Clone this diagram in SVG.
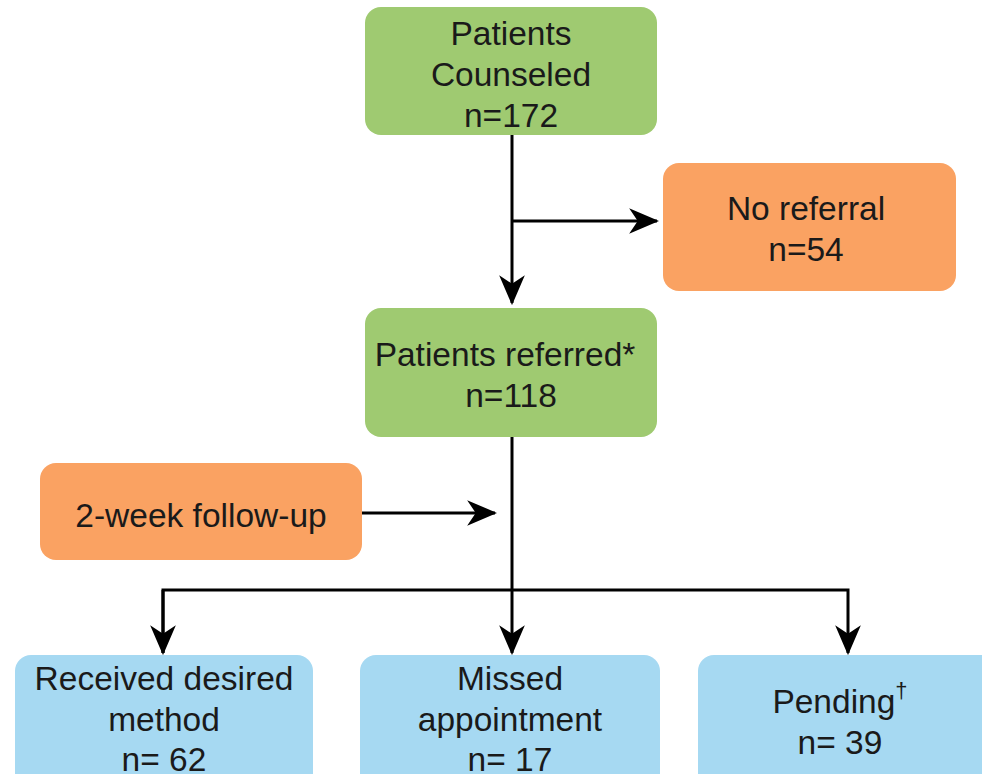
<svg xmlns="http://www.w3.org/2000/svg" width="982" height="774" viewBox="0 0 982 774">
<style>
text{font-family:"Liberation Sans",Arial,sans-serif;font-size:33.5px;fill:#1a1a1a;text-anchor:middle}
.g{fill:#9fca71}
.o{fill:#faa262}
.b{fill:#a6d9f2}
.ln{stroke:#000;stroke-width:3;fill:none}
</style>
<defs>
<marker id="ah" markerUnits="userSpaceOnUse" markerWidth="30" markerHeight="30" viewBox="0 0 28 24" refX="26" refY="12" orient="auto">
<path d="M0,0 L28,12 L0,24 L8,12 Z" fill="#000"/>
</marker>
</defs>
<g id="connectors">
<path class="ln" d="M512,135 V303" marker-end="url(#ah)"/>
<path class="ln" d="M512,221 H657" marker-end="url(#ah)"/>
<path class="ln" d="M362,513 H495" marker-end="url(#ah)"/>
<path class="ln" d="M512,437 V653" marker-end="url(#ah)"/>
<path class="ln" d="M163,653 V590 H848 V653" marker-end="url(#ah)"/>
<path class="ln" d="M163,590 V653" marker-end="url(#ah)"/>
</g>
<g id="n1"><rect class="g" x="365" y="7" width="292" height="128" rx="16"/>
<text x="511" y="45">Patients</text><text x="511" y="86">Counseled</text><text x="511" y="127">n=172</text></g>
<g id="n2"><rect class="o" x="663" y="163" width="293" height="128" rx="16"/>
<text x="806" y="220">No referral</text><text x="806" y="261">n=54</text></g>
<g id="n3"><rect class="g" x="365" y="308" width="292" height="129" rx="16"/>
<text x="505" y="366">Patients referred*</text><text x="511" y="407">n=118</text></g>
<g id="n4"><rect class="o" x="40" y="463" width="322" height="97" rx="16"/>
<text x="201" y="527">2-week follow-up</text></g>
<g id="n5"><rect class="b" x="15" y="655" width="298" height="135" rx="16"/>
<text x="164" y="690">Received desired</text><text x="164" y="731">method</text><text x="164" y="771">n= 62</text></g>
<g id="n6"><rect class="b" x="360" y="655" width="300" height="135" rx="16"/>
<text x="510" y="690">Missed</text><text x="510" y="731">appointment</text><text x="510" y="771">n= 17</text></g>
<g id="n7"><rect class="b" x="698" y="655" width="300" height="135" rx="16"/>
<text x="840" y="713">Pending<tspan font-size="22" dy="-15">†</tspan></text><text x="840" y="754">n= 39</text></g>
</svg>
